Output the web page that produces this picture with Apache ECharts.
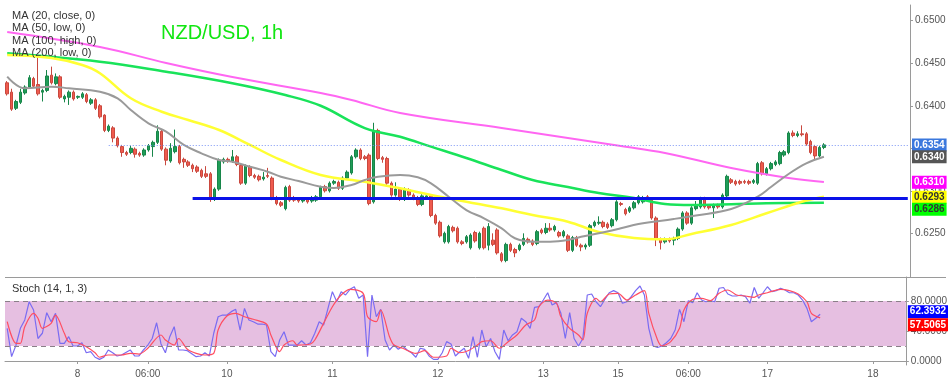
<!DOCTYPE html>
<html>
<head>
<meta charset="utf-8">
<script src="https://cdn.jsdelivr.net/npm/echarts@6/dist/echarts.min.js"></script>
<style>
html,body{margin:0;padding:0;background:#fff;}
#c{width:950px;height:381px;}
</style>
</head>
<body>
<div id="c"></div>
<script>
// ---------- DATA ----------
const tickIdx  = [16, 32, 50, 74, 98, 122, 139, 155, 173, 197];
const tickText = ['8', '06:00', '10', '11', '12', '13', '15', '06:00', '17', '18'];
const slotCount = 205;

const open = [
.6427,.6416,.6397,.6404,.6415,.6422,.6432,.6425,.6416,.6418,
.6436,.6426,.6434,.6408,.6410,.6416,.6410,.6410,.6413,.6403,
.6407,.6400,.6389,.6371,.6374,.6362,.6352,.6345,.6345,.6349,
.6344,.6342,.6348,.6352,.6357,.6370,.6349,.6335,.6346,.6352,
.6337,.6334,.6330,.6328,.6324,.6320,.6320,.6290,.6302,.6334,
.6337,.6335,.6340,.6330,.6309,.6328,.6318,.6317,.6314,.6318,
.6315,.6292,.6286,.6279,.6305,.6292,.6290,.6288,.6290,.6288,
.6289,.6293,.6305,.6300,.6309,.6310,.6303,.6315,.6321,.6340,
.6348,.6340,.6342,.6287,.6371,.6339,.6338,.6309,.6295,.6302,
.6290,.6301,.6295,.6292,.6284,.6292,.6294,.6271,.6263,.6240,
.6240,.6257,.6256,.6240,.6240,.6233,.6251,.6233,.6256,.6236,
.6242,.6254,.6226,.6218,.6237,.6231,.6231,.6237,.6243,.6241,
.6238,.6254,.6251,.6256,.6254,.6251,.6247,.6247,.6230,.6245,
.6236,.6234,.6236,.6259,.6262,.6263,.6261,.6259,.6266,.6285,
.6278,.6276,.6280,.6286,.6287,.6293,.6289,.6268,.6243,.6240,
.6243,.6242,.6244,.6255,.6274,.6262,.6279,.6281,.6291,.6282,
.6280,.6283,.6281,.6294,.6313,.6311,.6311,.6311,.6311,.6310,
.6309,.6333,.6320,.6326,.6331,.6332,.6342,.6345,.6368,.6365,
.6367,.6367,.6358,.6352,.6341,.6351];
const close = [
.6414,.6396,.6405,.6416,.6422,.6433,.6423,.6414,.6418,.6435,
.6427,.6434,.6410,.6411,.6416,.6408,.6411,.6414,.6405,.6407,
.6397,.6387,.6371,.6376,.6362,.6353,.6345,.6343,.6350,.6343,
.6342,.6348,.6353,.6357,.6370,.6349,.6336,.6350,.6352,.6333,
.6334,.6330,.6326,.6323,.6317,.6317,.6290,.6302,.6336,.6337,
.6335,.6340,.6331,.6309,.6329,.6318,.6316,.6313,.6316,.6317,
.6291,.6285,.6283,.6304,.6289,.6289,.6288,.6290,.6287,.6292,
.6293,.6304,.6300,.6309,.6311,.6303,.6315,.6322,.6340,.6348,
.6338,.6338,.6285,.6370,.6338,.6337,.6309,.6295,.6302,.6290,
.6302,.6295,.6291,.6284,.6294,.6294,.6271,.6262,.6247,.6250,
.6258,.6253,.6240,.6238,.6246,.6248,.6241,.6250,.6233,.6258,
.6237,.6227,.6218,.6237,.6230,.6227,.6236,.6244,.6240,.6237,
.6252,.6251,.6256,.6254,.6258,.6247,.6252,.6230,.6245,.6236,
.6234,.6236,.6259,.6263,.6263,.6258,.6257,.6266,.6287,.6284,
.6273,.6280,.6286,.6293,.6292,.6290,.6268,.6244,.6239,.6243,
.6241,.6244,.6255,.6274,.6262,.6280,.6282,.6291,.6281,.6280,
.6283,.6281,.6295,.6317,.6310,.6308,.6309,.6310,.6309,.6312,
.6332,.6320,.6326,.6332,.6334,.6345,.6346,.6368,.6365,.6367,
.6366,.6355,.6345,.6341,.6351,.6354];
const low = [
.6412,.6394,.6395,.6402,.6413,.6420,.6421,.6412,.6405,.6416,
.6425,.6424,.6408,.6404,.6401,.6406,.6408,.6408,.6403,.6401,
.6395,.6385,.6369,.6369,.6357,.6351,.6340,.6341,.6343,.6339,
.6340,.6340,.6346,.6340,.6355,.6347,.6330,.6333,.6344,.6331,
.6327,.6328,.6322,.6321,.6315,.6315,.6287,.6288,.6300,.6332,
.6333,.6333,.6329,.6307,.6307,.6316,.6314,.6311,.6312,.6315,
.6289,.6283,.6281,.6277,.6287,.6287,.6286,.6286,.6285,.6286,
.6287,.6291,.6298,.6298,.6307,.6301,.6301,.6313,.6319,.6338,
.6336,.6336,.6283,.6285,.6336,.6333,.6307,.6293,.6293,.6288,
.6288,.6293,.6289,.6282,.6282,.6290,.6269,.6260,.6245,.6238,
.6238,.6251,.6238,.6236,.6238,.6231,.6239,.6231,.6231,.6230,
.6235,.6225,.6216,.6216,.6228,.6222,.6229,.6235,.6238,.6235,
.6236,.6249,.6249,.6252,.6252,.6245,.6245,.6228,.6228,.6234,
.6229,.6231,.6234,.6257,.6260,.6256,.6255,.6257,.6264,.6282,
.6271,.6274,.6278,.6284,.6285,.6288,.6266,.6235,.6231,.6238,
.6239,.6236,.6242,.6253,.6260,.6260,.6277,.6279,.6279,.6278,
.6268,.6279,.6279,.6292,.6308,.6306,.6307,.6308,.6307,.6308,
.6307,.6318,.6318,.6324,.6329,.6330,.6340,.6343,.6363,.6363,
.6364,.6353,.6343,.6336,.6339,.6349];
const high = [
.6429,.6420,.6407,.6420,.6424,.6436,.6434,.6457,.6420,.6442,
.6446,.6438,.6436,.6413,.6418,.6418,.6412,.6416,.6415,.6409,
.6409,.6402,.6390,.6378,.6376,.6364,.6354,.6347,.6353,.6351,
.6346,.6350,.6355,.6359,.6377,.6372,.6351,.6356,.6372,.6354,
.6339,.6336,.6332,.6330,.6326,.6329,.6322,.6304,.6338,.6339,
.6339,.6348,.6342,.6332,.6331,.6330,.6320,.6319,.6322,.6327,
.6317,.6294,.6288,.6306,.6307,.6294,.6292,.6292,.6292,.6294,
.6295,.6306,.6307,.6311,.6313,.6312,.6317,.6324,.6342,.6350,
.6350,.6342,.6344,.6380,.6373,.6341,.6340,.6311,.6310,.6304,
.6304,.6303,.6297,.6294,.6296,.6296,.6296,.6273,.6265,.6252,
.6260,.6259,.6258,.6242,.6248,.6250,.6253,.6252,.6258,.6262,
.6250,.6256,.6228,.6239,.6239,.6233,.6238,.6250,.6245,.6243,
.6254,.6256,.6262,.6262,.6260,.6253,.6254,.6249,.6247,.6247,
.6238,.6238,.6261,.6265,.6270,.6265,.6263,.6268,.6289,.6287,
.6280,.6282,.6288,.6295,.6294,.6295,.6291,.6270,.6245,.6245,
.6245,.6246,.6257,.6276,.6276,.6282,.6288,.6293,.6293,.6284,
.6285,.6285,.6297,.6319,.6315,.6313,.6313,.6313,.6313,.6314,
.6334,.6335,.6328,.6334,.6336,.6347,.6348,.6370,.6371,.6370,
.6377,.6369,.6360,.6354,.6353,.6356];

// moving averages: [bar index, value]
const ma20 = [[0,.64342],[4,.64205],[10,.64224],[14,.64205],[21,.64165],[25,.64088],[28,.63950],[32,.63794],[36,.63695],[40,.63539],[44,.63441],[48,.63362],[51,.63342],[55,.63283],[59,.63225],[62,.63166],[66,.63115],[71,.63048],[74,.63033],[78,.63068],[81,.63127],[84,.63166],[89,.63186],[93,.63159],[96,.63088],[100,.62931],[104,.62774],[108,.62677],[112,.62559],[115,.62442],[119,.62402],[123,.62402],[127,.62422],[130,.62461],[134,.62500],[139,.62559],[143,.62610],[151,.62669],[156,.62710],[164,.62786],[170,.62931],[173,.63045],[177,.63198],[181,.63323],[185,.63401]];
const ma50 = [[0,.64597],[10,.64561],[17,.64479],[21,.64382],[28,.64088],[35,.63930],[41,.63833],[48,.63715],[55,.63539],[62,.63362],[71,.63186],[81,.63107],[89,.63030],[96,.62951],[104,.62872],[112,.62794],[119,.62716],[127,.62637],[134,.62516],[142,.62445],[149,.62430],[155,.62492],[164,.62598],[172,.62736],[180,.62872],[185,.62931]];
const ma100 = [[0,.64617],[21,.64518],[36,.64400],[51,.64264],[63,.64126],[71,.64000],[81,.63738],[89,.63636],[96,.63519],[104,.63386],[112,.63245],[119,.63127],[127,.63045],[134,.62974],[142,.62916],[149,.62845],[155,.62833],[164,.62841],[172,.62853],[185,.62860]];
const ma200 = [[0,.64867],[21,.64691],[36,.64503],[51,.64338],[71,.64150],[78,.64068],[89,.63915],[112,.63738],[127,.63621],[139,.63527],[149,.63445],[164,.63268],[177,.63151],[185,.63104]];

const lastPrice = 0.6354;
const priceLineStart = 23;
const supportLevel = 0.6291;
const supportStart = 42;
const priceTicks = [0.6250, 0.6300, 0.6350, 0.6400, 0.6450, 0.6500];

// stochastic (14,1,3): [bar index, value]
const stochK = [[0,43.6],[1,5.8],[2,21],[3,43.6],[4,54.7],[5,79],[6,68],[7,30],[8,37],[9,64.4],[10,52.4],[11,63.6],[12,23.6],[13,23.6],[14,32.4],[15,20],[16,20],[17,24.4],[18,11],[19,12.4],[20,5],[21,2.2],[22,5],[23,14.7],[24,11],[25,6.7],[26,8],[28,14.7],[29,6.7],[30,6.7],[31,14.7],[32,21.3],[33,30],[34,51],[35,22.7],[36,11],[37,32.4],[38,45.8],[39,14.7],[40,14.7],[41,13.8],[43,5.8],[44,6.7],[45,11],[46,6.7],[47,37],[48,59],[49,61.3],[50,61.3],[51,65.8],[52,68.9],[53,41.3],[54,70.2],[55,54.7],[56,52.4],[57,49.3],[58,49.3],[59,48],[60,12.4],[61,5.8],[62,28],[63,39],[64,21.3],[65,21.3],[66,21.3],[67,27],[68,21.3],[69,24.4],[70,37],[71,52.4],[72,48],[73,70.2],[74,92.4],[75,79],[76,92.4],[77,88],[78,95.6],[79,99],[80,83.6],[81,88],[82,5.8],[83,88],[84,59],[85,68.9],[86,28],[87,14.7],[88,21.3],[89,15.6],[90,20],[91,14.7],[92,11],[93,5],[94,17],[95,15.6],[96,6.7],[97,2.2],[98,2.2],[99,11],[100,25.8],[101,22.7],[102,6.7],[103,12.4],[104,17],[105,3.6],[106,32.4],[107,5],[108,41.3],[109,19],[110,30],[111,12.4],[112,2.2],[113,41.3],[114,27],[115,34.7],[116,39],[117,57],[118,52.4],[119,43.6],[120,71.6],[121,72.4],[122,81.3],[123,91],[124,74.7],[125,77.8],[126,63.6],[127,30],[128,64.4],[129,30],[130,20],[131,30],[132,88],[133,89.3],[134,79],[135,72.4],[136,82.2],[137,91],[138,93.8],[139,91],[140,77],[141,79],[142,85.8],[143,93.8],[144,100],[145,88],[146,43.6],[147,20],[148,18],[149,20],[150,24.4],[151,30],[152,41.3],[153,68.9],[154,52.4],[155,80.4],[156,77.8],[157,91],[158,81.3],[159,79],[160,80.4],[161,79],[162,97],[163,98],[164,89.3],[165,86.7],[166,86.7],[167,88],[168,85.8],[169,77],[170,98],[171,83.6],[172,91],[173,99],[174,92.4],[175,93.8],[176,97],[177,94.7],[178,91],[179,91],[180,88],[181,81.3],[182,70.2],[183,52.4],[184,57],[185,62.39]];
const stochD = [[0,52.4],[2,23.6],[3,23.6],[4,45.8],[6,63.6],[7,57],[8,43.6],[10,50.2],[11,61.3],[13,37],[14,25.8],[16,24.4],[18,19],[20,11],[21,5],[23,8],[26,8],[28,10.2],[30,9.3],[32,17],[35,34.7],[36,28],[38,21.3],[39,30],[41,15.6],[43,10.2],[45,8],[47,10.2],[48,41.3],[50,60],[52,63.6],[54,59],[56,55.6],[59,49.3],[60,34.7],[62,12.4],[63,21.3],[65,27],[66,21.3],[69,22.7],[70,28],[72,50.2],[74,72.4],[76,88],[78,95.6],[81,90.2],[82,59],[84,52.4],[85,68],[87,32.4],[88,21.3],[90,17],[93,10.2],[95,13.8],[97,5],[100,6.7],[101,17],[103,11],[105,14],[107,21.3],[108,25.8],[110,27],[112,17],[114,25.8],[116,34.7],[118,48],[120,54.7],[121,72.4],[123,81.3],[125,77],[126,59],[128,43.6],[130,34.7],[131,28],[132,63.6],[134,83.6],[135,79],[137,89.3],[139,90.2],[141,81.3],[143,88],[145,93.8],[146,63.6],[148,28],[149,20],[151,25.8],[153,43.6],[154,68],[156,82.2],[158,83.6],[160,80.4],[162,90.2],[164,94.7],[166,88],[168,86.7],[170,84.9],[171,88],[173,91],[176,95.6],[178,93.8],[180,89.3],[182,79],[183,63.6],[185,57.51]];
const stochKLast = 62.3932;
const stochDLast = 57.5065;
const stochBand = [20, 80];
const stochTicks = [0, 40, 80];

// ---------- CHART ----------
const FONT = 'Liberation Sans, Arial, sans-serif';
const cats = Array.from({length: slotCount}, (_, i) => String(i));
const candles = open.map((o, i) => [o, close[i], low[i], high[i]]);
const isTick = (i) => tickIdx.indexOf(i) >= 0;
const lastOf = (a) => a[a.length - 1][1];

function tag(value, bg, fg, offY) {
  return {
    yAxis: value,
    lineStyle: {color: 'rgba(0,0,0,0)', width: 1, type: 'solid'},
    label: {
      show: true, position: 'end', distance: 2,
      formatter: () => value.toFixed(4),
      backgroundColor: bg, color: fg, fontSize: 10, fontWeight: 'bold',
      fontFamily: FONT, padding: [2, 2, 1, 2], offset: [0, offY || 0]
    }
  };
}

const chart = echarts.init(document.getElementById('c'), null, {renderer: 'canvas'});
chart.setOption({
  animation: false,
  backgroundColor: '#ffffff',
  grid: [
    {left: 5, right: 40, top: 5, height: 272},
    {left: 5, right: 40, top: 277, height: 88}
  ],
  xAxis: [
    {type: 'category', gridIndex: 0, data: cats, boundaryGap: true,
     axisLine: {show: false}, axisTick: {show: false}, axisLabel: {show: false}, splitLine: {show: false}},
    {type: 'category', gridIndex: 1, data: cats, boundaryGap: true,
     axisLine: {show: true, lineStyle: {color: '#9a9a9a', width: 1}},
     axisTick: {show: true, interval: (i) => isTick(i), alignWithLabel: true, length: 3, lineStyle: {color: '#9a9a9a'}},
     axisLabel: {interval: (i) => isTick(i), formatter: (v, i) => tickText[tickIdx.indexOf(i)],
                 fontSize: 10, color: '#555', fontFamily: FONT, margin: 4},
     splitLine: {show: false}}
  ],
  yAxis: [
    {type: 'value', gridIndex: 0, position: 'right', min: 0.619867, max: 0.651846, scale: true,
     axisLine: {show: true, lineStyle: {color: '#9a9a9a'}},
     axisTick: {show: true, length: 3, customValues: priceTicks, lineStyle: {color: '#9a9a9a'}},
     axisLabel: {customValues: priceTicks, formatter: (v) => v.toFixed(4), fontSize: 10, color: '#555', fontFamily: FONT, margin: 5},
     splitLine: {show: false}},
    {type: 'value', gridIndex: 1, position: 'right', min: -5.33, max: 112,
     axisLine: {show: true, lineStyle: {color: '#9a9a9a'}},
     axisTick: {show: true, length: 3, customValues: stochTicks, lineStyle: {color: '#9a9a9a'}},
     axisLabel: {customValues: stochTicks, formatter: (v) => v.toFixed(4), fontSize: 10, color: '#555', fontFamily: FONT, margin: 5},
     splitLine: {show: false}}
  ],
  graphic: [
    {type: 'line', shape: {x1: 5, y1: 277.5, x2: 946, y2: 277.5}, style: {stroke: '#9a9a9a', lineWidth: 1}, z: 50},
    {type: 'text', x: 12, y: 15.5, z: 100, style: {text: 'MA (20, close, 0)', fill: '#333', font: '11px ' + FONT, verticalAlign: 'middle'}},
    {type: 'text', x: 12, y: 28, z: 100, style: {text: 'MA (50, low, 0)', fill: '#333', font: '11px ' + FONT, verticalAlign: 'middle'}},
    {type: 'text', x: 12, y: 40.5, z: 100, style: {text: 'MA (100, high, 0)', fill: '#333', font: '11px ' + FONT, verticalAlign: 'middle'}},
    {type: 'text', x: 12, y: 53, z: 100, style: {text: 'MA (200, low, 0)', fill: '#333', font: '11px ' + FONT, verticalAlign: 'middle'}},
    {type: 'text', x: 161, y: 33, z: 100, style: {text: 'NZD/USD, 1h', fill: '#11e611', font: '20px ' + FONT, verticalAlign: 'middle'}},
    {type: 'text', x: 12, y: 289, z: 100, style: {text: 'Stoch (14, 1, 3)', fill: '#333', font: '11px ' + FONT, verticalAlign: 'middle'}}
  ],
  series: [
    {type: 'candlestick', xAxisIndex: 0, yAxisIndex: 0, data: candles, barWidth: 3, z: 3,
     itemStyle: {color: '#1f9d57', color0: '#ef5b4e', borderColor: '#18864a', borderColor0: '#c9483e', borderWidth: 1}},
    {type: 'line', xAxisIndex: 0, yAxisIndex: 0, data: ma200, showSymbol: false, smooth: 0.4, z: 4,
     lineStyle: {color: '#ff66f2', width: 2}},
    {type: 'line', xAxisIndex: 0, yAxisIndex: 0, data: ma100, showSymbol: false, smooth: 0.4, z: 4,
     lineStyle: {color: '#19e35a', width: 2.5}},
    {type: 'line', xAxisIndex: 0, yAxisIndex: 0, data: ma50, showSymbol: false, smooth: 0.4, z: 4,
     lineStyle: {color: '#ffff33', width: 2.5}},
    {type: 'line', xAxisIndex: 0, yAxisIndex: 0, data: ma20, showSymbol: false, smooth: 0.4, z: 4,
     lineStyle: {color: '#9a9a9a', width: 2},
     markLine: {
       silent: true, symbol: ['none', 'none'], animation: false, precision: 6,
       data: [
         [{coord: [priceLineStart, lastPrice], lineStyle: {color: '#7a94f5', type: [1, 2], width: 1}, label: {show: false}},
          {coord: [slotCount - 1, lastPrice]}],
         tag(lastPrice, '#3b78dd', '#fff', 0),
         tag(+lastOf(ma20).toFixed(4), '#555555', '#fff', 0),
         tag(+lastOf(ma200).toFixed(4), '#ff00ff', '#fff', 0),
         tag(+lastOf(ma50).toFixed(4), '#ffff00', '#333', 0.5),
         tag(+lastOf(ma100).toFixed(4), '#00ff00', '#333', 6.5)
       ]
     }},
    {type: 'line', xAxisIndex: 0, yAxisIndex: 0, data: [], z: 6,
     markLine: {silent: true, symbol: ['none', 'none'], animation: false, precision: 6,
       data: [[{coord: [supportStart, supportLevel], lineStyle: {color: '#0b12e8', width: 3, type: 'solid'}, label: {show: false}},
               {coord: [slotCount - 1, supportLevel]}]]}},
    {type: 'line', xAxisIndex: 1, yAxisIndex: 1, data: stochK, showSymbol: false, z: 4,
     lineStyle: {color: '#7a6cf2', width: 1.2},
     markArea: {silent: true, itemStyle: {color: '#e6bfe1'}, data: [[{yAxis: stochBand[0]}, {yAxis: stochBand[1]}]]},
     markLine: {silent: true, symbol: ['none', 'none'], animation: false, precision: 6,
       data: [
         {yAxis: stochBand[1], lineStyle: {color: '#8a7f88', type: [5, 4], width: 1}, label: {show: false}},
         {yAxis: stochBand[0], lineStyle: {color: '#8a7f88', type: [5, 4], width: 1}, label: {show: false}},
         tag(stochKLast, '#0000ff', '#fff', -2.5),
         tag(stochDLast, '#ff0000', '#fff', 7)
       ]}},
    {type: 'line', xAxisIndex: 1, yAxisIndex: 1, data: stochD, showSymbol: false, smooth: 0.3, z: 4,
     lineStyle: {color: '#ff4d61', width: 1.2}}
  ]
});
</script>
</body>
</html>
